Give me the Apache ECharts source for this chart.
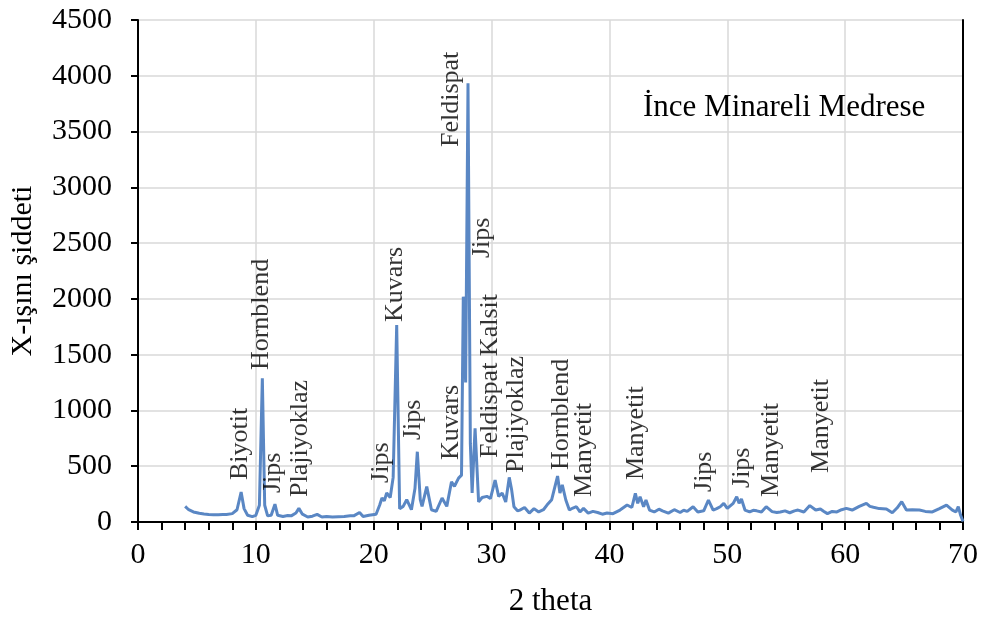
<!DOCTYPE html>
<html>
<head>
<meta charset="utf-8">
<script src="https://cdn.jsdelivr.net/npm/echarts@6/dist/echarts.min.js"></script>
<style>
html,body{margin:0;padding:0;background:#fff;}
#chart{width:987px;height:626px;}
</style>
</head>
<body>
<div id="chart"></div>
<script>
const twoTheta = [
  4.0,4.3,4.7,5.2,5.6,6.0,6.4,6.8,7.2,7.5,
  8.0,8.4,8.75,9.0,9.3,9.7,10.0,10.3,10.55,10.75,
  11.0,11.3,11.62,11.85,12.3,12.7,13.0,13.4,13.65,13.95,
  14.4,14.8,15.2,15.6,16.0,16.5,17.0,17.5,18.0,18.3,
  18.8,19.1,19.6,20.2,20.5,20.7,20.9,21.1,21.4,21.65,
  21.95,22.2,22.5,22.8,23.2,23.5,23.7,23.95,24.1,24.5,
  24.9,25.3,25.8,26.2,26.6,26.85,27.2,27.45,27.6,27.8,
  28.0,28.2,28.35,28.6,28.9,29.2,29.6,29.9,30.3,30.6,
  30.9,31.2,31.5,31.7,31.9,32.2,32.4,32.8,33.2,33.6,
  34.0,34.4,34.7,35.1,35.6,35.8,36.0,36.3,36.6,36.9,
  37.2,37.5,37.8,38.2,38.6,39.0,39.4,39.8,40.3,40.9,
  41.5,41.9,42.2,42.4,42.6,42.9,43.1,43.4,43.8,44.2,
  44.5,45.0,45.5,46.0,46.3,46.6,47.1,47.5,48.0,48.4,
  48.8,49.1,49.4,49.7,50.0,50.5,50.8,51.0,51.2,51.5,
  51.9,52.2,52.5,52.9,53.3,53.8,54.2,54.5,54.9,55.3,
  55.7,56.0,56.5,57.0,57.5,57.9,58.2,58.5,58.9,59.3,
  59.7,60.1,60.6,61.2,61.8,62.1,62.4,62.9,63.5,64.0,
  64.4,64.8,65.2,65.7,66.3,66.8,67.4,68.0,68.6,69.1,
  69.4,69.6,69.8,70.0
];
const intensity = [
  140,110,90,78,72,68,66,65,67,68,
  75,110,268,120,60,48,60,150,1288,150,
  55,60,160,60,50,58,55,80,122,70,
  45,52,68,45,50,45,48,50,55,55,
  85,50,60,70,150,215,190,260,220,400,
  1766,120,140,200,110,300,630,200,140,317,
  110,95,215,140,360,320,393,420,2020,1250,
  3932,700,260,840,180,220,230,210,376,230,
  260,180,400,290,137,100,107,130,80,120,
  90,110,152,200,412,260,332,197,107,125,
  137,90,122,80,95,85,70,80,75,107,
  152,130,257,167,227,137,197,107,90,115,
  100,80,110,85,105,95,137,90,100,197,
  107,120,137,167,122,167,227,167,206,107,
  90,105,100,90,137,93,85,90,100,83,
  100,107,90,147,107,117,95,75,95,90,
  110,122,107,140,167,140,132,120,117,83,
  125,182,107,110,107,95,90,120,152,107,
  90,137,60,5
];

// Peak annotations: text, 2-theta position, intensity at the text's start
const peakNames = ["Biyotit","Hornblend","Jips","Plajiyoklaz","Jips","Kuvars","Jips","Kuvars","Feldispat","Jips","Feldispat Kalsit","Plajiyoklaz","Hornblend","Manyetit","Manyetit","Jips","Jips","Manyetit","Manyetit"];
const peakX = [8.65,10.45,11.5,13.75,20.6,21.8,23.35,26.6,26.6,29.2,29.85,32.1,35.9,37.85,42.25,48.0,51.25,53.7,57.95];
const peakY = [376,1362,260,224,350,1793,735,556,3361,2366,574,440,466,224,376,269,305,224,440];

const xTicks = [0,10,20,30,40,50,60,70];
const yTicks = [0,500,1000,1500,2000,2500,3000,3500,4000,4500];

const FONT = 'Liberation Serif';
const chart = echarts.init(document.getElementById('chart'));

const lineData = twoTheta.map((x,i)=>[x,intensity[i]]);
const labelData = peakNames.map((n,i)=>({name:n, value:[peakX[i],peakY[i]]}));

chart.setOption({
  animation:false,
  backgroundColor:'#fff',
  title:{
    text:'İnce Minareli Medrese',
    left:638, top:87,
    textStyle:{fontFamily:FONT,fontSize:31,fontWeight:'normal',color:'#000'}
  },
  grid:{left:138,right:24,top:20,bottom:104,containLabel:false},
  xAxis:{
    type:'value',min:xTicks[0],max:xTicks[xTicks.length-1],interval:10,
    name:'2 theta',nameLocation:'middle',nameGap:64,
    nameTextStyle:{fontFamily:FONT,fontSize:31,color:'#000'},
    axisLine:{show:true,onZero:false,lineStyle:{color:'#000',width:2}},
    axisTick:{show:true,inside:false,length:8,lineStyle:{color:'#000',width:2}},
    minorTick:{show:true,splitNumber:5,length:8,lineStyle:{color:'#000',width:2}},
    axisLabel:{fontFamily:FONT,fontSize:30,color:'#000',margin:18,formatter:v=>String(v)},
    splitLine:{show:true,lineStyle:{color:'#d9d9d9',width:1.5}}
  },
  yAxis:[{
    type:'value',min:yTicks[0],max:yTicks[yTicks.length-1],interval:500,
    name:'X-ışını şiddeti',nameLocation:'middle',nameGap:100,
    nameTextStyle:{fontFamily:FONT,fontSize:30,color:'#000'},
    axisLine:{show:true,lineStyle:{color:'#000',width:2}},
    axisTick:{show:true,inside:false,length:7,lineStyle:{color:'#000',width:2}},
    axisLabel:{fontFamily:FONT,fontSize:30,color:'#000',margin:26,formatter:v=>String(v)},
    splitLine:{show:true,lineStyle:{color:'#d9d9d9',width:1.5}}
  },{
    type:'value',position:'right',min:yTicks[0],max:yTicks[yTicks.length-1],interval:500,
    axisLine:{show:true,lineStyle:{color:'#000',width:2}},
    axisTick:{show:false},axisLabel:{show:false},splitLine:{show:false}
  }],
  series:[{
    type:'line',data:lineData,showSymbol:false,smooth:false,
    lineStyle:{color:'#5a87c4',width:3},itemStyle:{color:'#5a87c4'},
    silent:true,z:3
  },{
    type:'scatter',data:labelData,symbolSize:0,silent:true,z:4,
    label:{
      show:true,formatter:p=>p.name,rotate:90,position:[0,0],
      align:'left',verticalAlign:'middle',
      fontFamily:FONT,fontSize:26,color:'#000'
    }
  }]
});
</script>
</body>
</html>
